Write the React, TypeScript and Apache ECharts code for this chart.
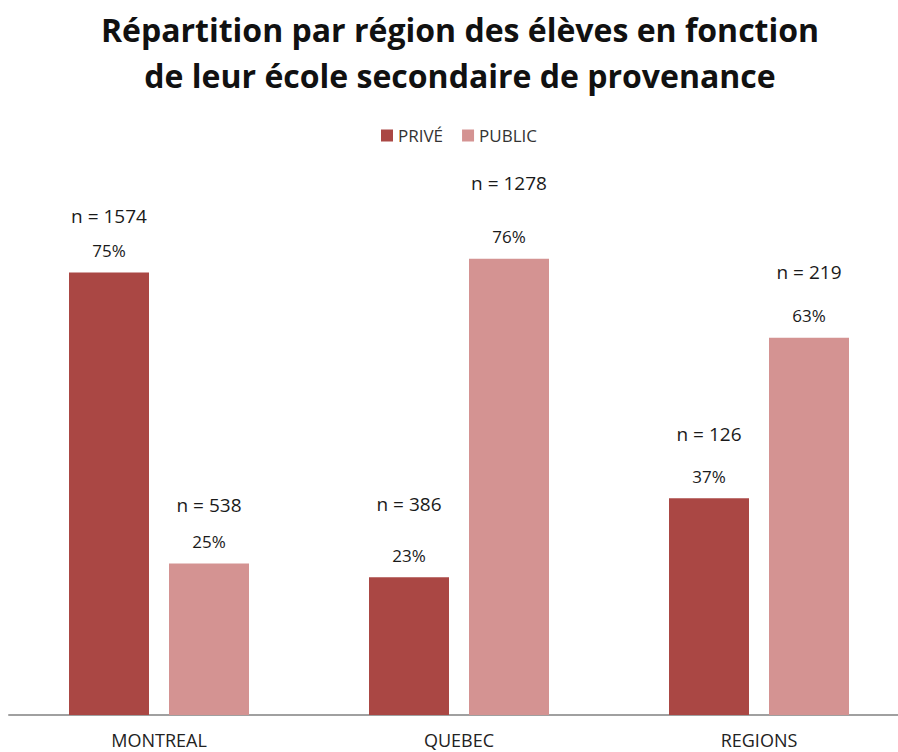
import React, { useEffect, useRef } from "react";
import * as echarts from "echarts";

const titleLines = [
  "Répartition par région des élèves en fonction",
  "de leur école secondaire de provenance",
];
const categories = ["MONTREAL", "QUEBEC", "REGIONS"];
const seriesNames = ["PRIVÉ", "PUBLIC"];
const priveValues = [74.5, 23.2, 36.5];
const publicValues = [25.5, 76.8, 63.5];
const priveCounts = [1574, 386, 126];
const publicCounts = [538, 1278, 219];
const privePctLabels = ["75%", "23%", "37%"];
const publicPctLabels = ["25%", "76%", "63%"];

// vertical spacing (px) between the "n = …" text and the percentage text, per bar (layout only)
const priveNGap = [34, 51, 42];
const publicNGap = [37, 54, 44];

const FONT = "'Open Sans', 'Noto Sans', sans-serif";

export default function App() {
  const ref = useRef<HTMLDivElement>(null);
  useEffect(() => {
    if (!ref.current) return;
    const chart = echarts.init(ref.current, null, { renderer: "svg" });
    const makeData = (
      values: number[],
      counts: number[],
      pcts: string[],
      gaps: number[]
    ) =>
      values.map((v, i) => ({
        value: v,
        label: {
          show: true,
          position: "top",
          distance: 10,
          formatter: `{n|n = ${counts[i]}}\n{p|${pcts[i]}}`,
          rich: {
            n: {
              fontSize: 19,
              lineHeight: 2 * (gaps[i] - 12),
              color: "#1a1a1a",
              fontFamily: FONT,
            },
            p: { fontSize: 17, lineHeight: 24, color: "#1a1a1a", fontFamily: FONT },
          },
        },
      }));
    chart.setOption({
      animation: false,
      backgroundColor: "#ffffff",
      title: {
        text: titleLines.join("\n"),
        left: "center",
        top: 1,
        textStyle: {
          fontFamily: FONT,
          fontWeight: "bold",
          fontSize: 32,
          lineHeight: 46,
          color: "#111111",
        },
      },
      legend: {
        data: seriesNames,
        left: 376,
        top: 122,
        icon: "rect",
        itemWidth: 12,
        itemHeight: 12,
        itemGap: 19,
        textStyle: { fontFamily: FONT, fontSize: 17, color: "#333333" },
      },
      grid: { left: 9, right: 11, top: 121, bottom: 37 },
      xAxis: {
        type: "category",
        data: categories,
        axisTick: { show: false },
        axisLine: { lineStyle: { color: "#a0a0a0", width: 2 } },
        axisLabel: {
          margin: 15,
          fontFamily: FONT,
          fontSize: 18,
          lineHeight: 20,
          color: "#222222",
        },
      },
      yAxis: {
        type: "value",
        min: 0,
        max: 100,
        show: false,
        splitLine: { show: false },
      },
      series: [
        {
          name: seriesNames[0],
          type: "bar",
          data: makeData(priveValues, priveCounts, privePctLabels, priveNGap),
          barWidth: 80,
          barGap: "25%",
          itemStyle: { color: "#AA4744" },
          label: { show: true },
        },
        {
          name: seriesNames[1],
          type: "bar",
          data: makeData(publicValues, publicCounts, publicPctLabels, publicNGap),
          barWidth: 80,
          itemStyle: { color: "#D49392" },
          label: { show: true },
        },
      ],
    });
    return () => chart.dispose();
  }, []);
  return (
    <div style={{ position: "fixed", left: 0, top: 0, width: 898, height: 752, overflow: "hidden" }}>
      <div ref={ref} style={{ width: 920, height: 752 }} />
    </div>
  );
}
